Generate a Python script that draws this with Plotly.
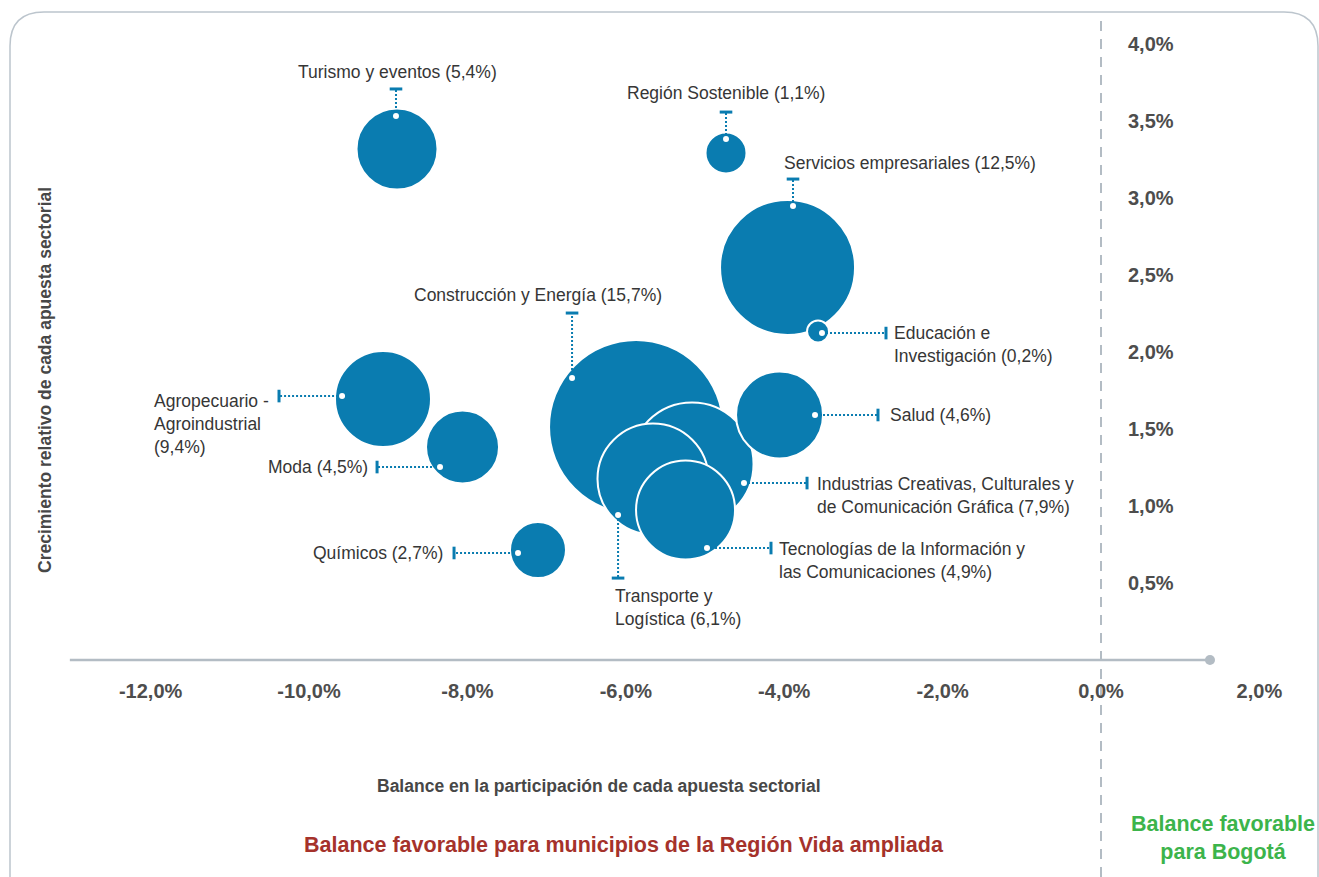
import plotly.graph_objects as go

# ---------------- data ----------------
sectores = ["Construcción y Energía", "Industrias Creativas", "Transporte y Logística",
            "Tecnologías de la Información", "Turismo y eventos", "Región Sostenible",
            "Servicios empresariales", "Educación e Investigación", "Salud",
            "Agropecuario - Agroindustrial", "Moda", "Químicos"]
participacion = [15.7, 7.9, 6.1, 4.9, 5.4, 1.1, 12.5, 0.2, 4.6, 9.4, 4.5, 2.7]
# bubble centres (balance %, growth %)
balance = [-5.871, -5.164, -5.657, -5.246, -8.889, -4.735, -3.958, -3.573, -4.059, -9.066, -8.062, -7.109]
crecimiento = [1.513, 1.273, 1.175, 0.974, 3.318, 3.292, 2.549, 2.133, 1.591, 1.695, 1.383, 0.714]
# bubble diameter
tamano = [174, 123, 111, 99, 81, 41, 135, 22, 87, 96, 73, 56]
# label anchor points and leader ends (data units)
punto_x = [-6.679, -4.508, -6.098, -4.975, -8.902, -4.735, -3.889, -3.523, -3.611, -9.583, -8.346, -7.361]
punto_y = [1.831, 1.149, 0.942, 0.727, 3.532, 3.383, 2.948, 2.123, 1.591, 1.714, 1.253, 0.695]
remate_x = [-6.679, -3.712, -6.098, -4.167, -8.902, -4.735, -3.889, -2.715, -2.816, -10.379, -9.141, -8.169]
remate_y = [2.253, 1.149, 0.532, 0.727, 3.708, 3.558, 3.123, 2.123, 1.591, 1.714, 1.253, 0.695]
etiquetas = ["Construcción y Energía (15,7%)",
             "Industrias Creativas, Culturales y<br>de Comunicación Gráfica (7,9%)",
             "Transporte y<br>Logística (6,1%)",
             "Tecnologías de la Información y<br>las Comunicaciones (4,9%)",
             "Turismo y eventos (5,4%)",
             "Región Sostenible (1,1%)",
             "Servicios empresariales (12,5%)",
             "Educación e<br>Investigación (0,2%)",
             "Salud (4,6%)",
             "Agropecuario -<br>Agroindustrial<br>(9,4%)",
             "Moda (4,5%)",
             "Químicos (2,7%)"]
etiqueta_x = [-7.109, -3.611, -6.162, -4.091, -8.889, -4.735, -4.028, -2.639, -2.689, -11.982, -9.230, -8.283]
etiqueta_y = [2.370, 1.071, 0.338, 0.649, 3.818, 3.682, 3.227, 2.052, 1.591, 1.532, 1.253, 0.695]
etiqueta_anchor = ["center", "left", "left", "left", "center", "center", "left", "left", "left", "left", "right", "right"]

x_ticks = [-12, -10, -8, -6, -4, -2, 0, 2]
x_ticktext = ["-12,0%", "-10,0%", "-8,0%", "-6,0%", "-4,0%", "-2,0%", "0,0%", "2,0%"]
y_ticks = [0.5, 1.0, 1.5, 2.0, 2.5, 3.0, 3.5, 4.0]
y_ticktext = ["0,5%", "1,0%", "1,5%", "2,0%", "2,5%", "3,0%", "3,5%", "4,0%"]

# ---------------- style ----------------
W, H = 1319, 877
AZUL = "#0a7cb0"
GRIS_EJE = "#b3bcc4"
FUENTE = "Liberation Sans, Arial"
X_RANGE = [-13.902, 2.7525]
Y_RANGE = [-1.409, 4.2857]

fig = go.Figure()

fig.add_trace(go.Scatter(
    x=balance, y=crecimiento, mode="markers",
    marker=dict(size=tamano, sizemode="diameter", color=AZUL, opacity=1,
                line=dict(color="white", width=2)),
    hoverinfo="text", text=sectores))

# leader lines
lx, ly = [], []
for a, b, c, d in zip(punto_x, punto_y, remate_x, remate_y):
    lx += [a, c, None]
    ly += [b, d, None]
fig.add_trace(go.Scatter(x=lx, y=ly, mode="lines",
                         line=dict(color=AZUL, width=2, dash="2px,2px"), hoverinfo="skip"))

# caps
simbolos = ["line-ew" if abs(px - rx) < 1e-9 else "line-ns" for px, rx in zip(punto_x, remate_x)]
fig.add_trace(go.Scatter(x=remate_x, y=remate_y, mode="markers",
                         marker=dict(symbol=simbolos, size=9, color=AZUL,
                                     line=dict(color=AZUL, width=3)),
                         hoverinfo="skip"))

# white anchor dots
fig.add_trace(go.Scatter(x=punto_x, y=punto_y, mode="markers",
                         marker=dict(size=6, color="white"), hoverinfo="skip"))

# x axis line with end dot
fig.add_shape(type="line", xref="x", yref="y", x0=-13.02, x1=1.376, y0=0, y1=0,
              line=dict(color=GRIS_EJE, width=2.5), layer="below")
fig.add_trace(go.Scatter(x=[1.376], y=[0], mode="markers",
                         marker=dict(size=10, color=GRIS_EJE), hoverinfo="skip"))

# dashed zero line
fig.add_shape(type="line", xref="x", yref="paper", x0=0, x1=0, y0=0, y1=1 - 20 / H,
              line=dict(color=GRIS_EJE, width=2, dash="10px,8px"), layer="below")

# rounded frame
x0, x1 = 10 / W, 1318 / W
y0, y1 = 1 - 12 / H, -0.05
rx, ry = 34 / W, 34 / H
path = (f"M {x0},{y1} L {x0},{y0 - ry} Q {x0},{y0} {x0 + rx},{y0} "
        f"L {x1 - rx},{y0} Q {x1},{y0} {x1},{y0 - ry} L {x1},{y1}")
fig.add_shape(type="path", xref="paper", yref="paper", path=path,
              line=dict(color="#bcc5cd", width=1.5), layer="below")

for t, x, y, anc in zip(etiquetas, etiqueta_x, etiqueta_y, etiqueta_anchor):
    fig.add_annotation(x=x, y=y, xref="x", yref="y", text=t, showarrow=False,
                       xanchor=anc, yanchor="middle", align="left",
                       font=dict(family=FUENTE, size=17.5, color="#363636"))

# titles
fig.add_annotation(x=599 / W, y=1 - 786 / H, xref="paper", yref="paper",
                   text="Balance en la participación de cada apuesta sectorial",
                   showarrow=False, xanchor="center", yanchor="middle",
                   font=dict(family=FUENTE, size=17.5, color="#474747", weight="bold"))
fig.add_annotation(x=624 / W, y=1 - 845 / H, xref="paper", yref="paper",
                   text="Balance favorable para municipios de la Región Vida ampliada",
                   showarrow=False, xanchor="center", yanchor="middle",
                   font=dict(family=FUENTE, size=21.5, color="#a5322b", weight="bold"))
fig.add_annotation(x=1223 / W, y=1 - 838 / H, xref="paper", yref="paper",
                   text="Balance favorable<br>para Bogotá",
                   showarrow=False, xanchor="center", yanchor="middle",
                   font=dict(family=FUENTE, size=21.5, color="#3cb44b", weight="bold"))
fig.add_annotation(x=45 / W, y=1 - 380 / H, xref="paper", yref="paper",
                   text="Crecimiento relativo de cada apuesta sectorial", textangle=-90,
                   showarrow=False, xanchor="center", yanchor="middle",
                   font=dict(family=FUENTE, size=17.5, color="#474747", weight="bold"))

tick_font = dict(family=FUENTE, size=20, color="#4d4d4d", weight="bold")
fig.update_layout(
    width=W, height=H, margin=dict(l=0, r=0, t=0, b=0, autoexpand=False),
    paper_bgcolor="white", plot_bgcolor="rgba(0,0,0,0)", showlegend=False,
    xaxis=dict(range=X_RANGE, domain=[0, 1], anchor="free", position=(H - 660) / H,
               tickvals=x_ticks, ticktext=x_ticktext,
               showgrid=False, zeroline=False, showline=False,
               ticks="outside", ticklen=13, tickcolor="rgba(0,0,0,0)", tickfont=tick_font),
    yaxis=dict(range=Y_RANGE, domain=[0, 1], anchor="free", position=1101 / W, side="right",
               tickvals=y_ticks, ticktext=y_ticktext,
               showgrid=False, zeroline=False, showline=False,
               ticks="outside", ticklen=22, tickcolor="rgba(0,0,0,0)", tickfont=tick_font),
)

fig.write_html("out.html", config={"displayModeBar": False},
               post_script="document.body.style.margin='0px';")
